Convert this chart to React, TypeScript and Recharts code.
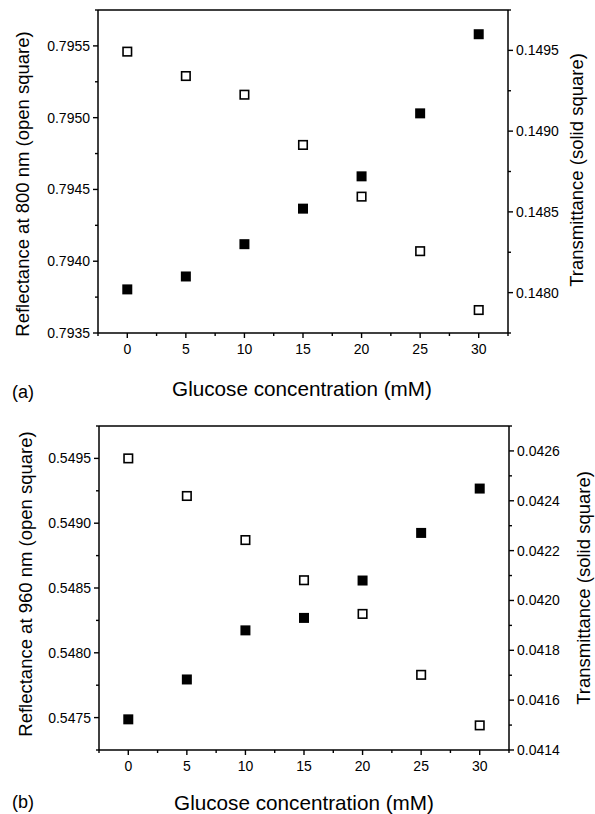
import React from 'react';
import { ScatterChart, Scatter, XAxis, YAxis, ReferenceLine } from 'recharts';

const FONT = '"Liberation Sans", Arial, Helvetica, sans-serif';

// ---- shared x axis ----
const concentrations = [0, 5, 10, 15, 20, 25, 30];
const xDomain = [-2.5, 32.5];
const xMajorTicks = [0, 5, 10, 15, 20, 25, 30];
const xMinorTicks = [-2.5, 2.5, 7.5, 12.5, 17.5, 22.5, 27.5, 32.5];

// ---- panel (a) ----
const reflectance800 = [0.79546, 0.79529, 0.79516, 0.79481, 0.79445, 0.79407, 0.79366];
const transmittanceA = [0.14802, 0.1481, 0.1483, 0.14852, 0.14872, 0.14911, 0.1496];
const leftDomainA = [0.7935, 0.79575];
const leftMajorA = [0.7935, 0.794, 0.7945, 0.795, 0.7955];
const leftMinorA = [0.79375, 0.79425, 0.79475, 0.79525, 0.79575];
const rightDomainA = [0.14775, 0.14975];
const rightMajorA = [0.148, 0.1485, 0.149, 0.1495];
const rightMinorA = [0.14775, 0.14825, 0.14875, 0.14925, 0.14975];

// ---- panel (b) ----
const reflectance960 = [0.5495, 0.54921, 0.54887, 0.54856, 0.5483, 0.54783, 0.54744];
const transmittanceB = [0.041523, 0.041683, 0.04188, 0.04193, 0.04208, 0.042271, 0.042449];
const leftDomainB = [0.54725, 0.54975];
const leftMajorB = [0.5475, 0.548, 0.5485, 0.549, 0.5495];
const leftMinorB = [0.54725, 0.54775, 0.54825, 0.54875, 0.54925, 0.54975];
const rightDomainB = [0.0414, 0.0427];
const rightMajorB = [0.0414, 0.0416, 0.0418, 0.042, 0.0422, 0.0424, 0.0426];
const rightMinorB = [0.0415, 0.0417, 0.0419, 0.0421, 0.0423, 0.0425, 0.0427];

const isMajor = (v: number, majors: number[]) => majors.some((m) => Math.abs(m - v) < 1e-9);

const makeXTick = (majors: number[]) => (props: any) => {
  const { x, y, payload } = props;
  const major = isMajor(payload.value, majors);
  return (
    <g>
      <line x1={x} x2={x} y1={y} y2={y + (major ? 5 : 3)} stroke="#000" strokeWidth={1.4} />
      {major && (
        <text x={x} y={y + 21} textAnchor="middle" fontSize={14} fontFamily={FONT} fill="#000">
          {payload.value}
        </text>
      )}
    </g>
  );
};

const makeYTick = (majors: number[], side: 'left' | 'right') => (props: any) => {
  const { x, y, payload } = props;
  const major = isMajor(payload.value, majors);
  const len = major ? 5 : 3;
  const dir = side === 'left' ? -1 : 1;
  return (
    <g>
      <line x1={x} x2={x + dir * len} y1={y} y2={y} stroke="#000" strokeWidth={1.4} />
      {major && (
        <text
          x={x + dir * 8}
          y={y + 5}
          textAnchor={side === 'left' ? 'end' : 'start'}
          fontSize={14}
          fontFamily={FONT}
          fill="#000"
        >
          {payload.value.toFixed(4)}
        </text>
      )}
    </g>
  );
};

const OpenSquare = (props: any) => {
  const { cx, cy } = props;
  return <rect x={cx - 4.25} y={cy - 4.25} width={8.5} height={8.5} fill="#fff" stroke="#000" strokeWidth={1.6} />;
};
const SolidSquare = (props: any) => {
  const { cx, cy } = props;
  return <rect x={cx - 5} y={cy - 5} width={10} height={10} fill="#000" />;
};

type PanelProps = {
  height: number;
  plot: { left: number; top: number; right: number; bottom: number };
  refl: number[];
  trans: number[];
  leftDomain: number[];
  leftMajor: number[];
  leftMinor: number[];
  rightDomain: number[];
  rightMajor: number[];
  rightMinor: number[];
  leftTitle: string;
  rightTitle: string;
  leftTitlePos: [number, number];
  rightTitlePos: [number, number];
  xTitlePos: [number, number];
  letter: string;
  letterPos: [number, number];
};

function Panel(p: PanelProps) {
  const W = 595;
  const axisW = 60;
  const axisH = 60;
  const margin = {
    top: p.plot.top,
    left: p.plot.left - axisW,
    right: W - p.plot.right - axisW,
    bottom: p.height - p.plot.bottom - axisH,
  };
  const reflData = concentrations.map((c, i) => ({ x: c, y: p.refl[i] }));
  const transData = concentrations.map((c, i) => ({ x: c, y: p.trans[i] }));
  const xTicks = [...xMajorTicks, ...xMinorTicks].sort((a, b) => a - b);
  const lTicks = [...p.leftMajor, ...p.leftMinor].sort((a, b) => a - b);
  const rTicks = [...p.rightMajor, ...p.rightMinor].sort((a, b) => a - b);

  return (
    <ScatterChart width={W} height={p.height} margin={margin}>
      <XAxis
        type="number"
        dataKey="x"
        domain={xDomain}
        ticks={xTicks}
        interval={0}
        allowDataOverflow
        height={axisH}
        tickSize={0}
        tickMargin={0}
        tickLine={false}
        axisLine={{ stroke: '#000', strokeWidth: 1.5 }}
        tick={makeXTick(xMajorTicks)}
        label={() => (
          <g>
            <text x={p.xTitlePos[0]} y={p.xTitlePos[1]} textAnchor="middle" fontSize={20.7} fontFamily={FONT} fill="#000">
              Glucose concentration (mM)
            </text>
            <text x={p.letterPos[0]} y={p.letterPos[1]} textAnchor="start" fontSize={18} fontFamily={FONT} fill="#000">
              {p.letter}
            </text>
          </g>
        )}
      />
      <YAxis
        yAxisId="left"
        orientation="left"
        type="number"
        dataKey="y"
        domain={p.leftDomain}
        ticks={lTicks}
        interval={0}
        allowDataOverflow
        width={axisW}
        tickSize={0}
        tickMargin={0}
        tickLine={false}
        axisLine={{ stroke: '#000', strokeWidth: 1.5 }}
        tick={makeYTick(p.leftMajor, 'left')}
        label={() => (
          <text
            transform={`translate(${p.leftTitlePos[0]},${p.leftTitlePos[1]}) rotate(-90)`}
            textAnchor="middle"
            dominantBaseline="central"
            fontSize={18.5}
            fontFamily={FONT}
            fill="#000"
          >
            {p.leftTitle}
          </text>
        )}
      />
      <YAxis
        yAxisId="right"
        orientation="right"
        type="number"
        dataKey="y"
        domain={p.rightDomain}
        ticks={rTicks}
        interval={0}
        allowDataOverflow
        width={axisW}
        tickSize={0}
        tickMargin={0}
        tickLine={false}
        axisLine={{ stroke: '#000', strokeWidth: 1.5 }}
        tick={makeYTick(p.rightMajor, 'right')}
        label={() => (
          <text
            transform={`translate(${p.rightTitlePos[0]},${p.rightTitlePos[1]}) rotate(-90)`}
            textAnchor="middle"
            dominantBaseline="central"
            fontSize={18.5}
            fontFamily={FONT}
            fill="#000"
          >
            {p.rightTitle}
          </text>
        )}
      />
      <ReferenceLine yAxisId="left" y={p.leftDomain[1]} stroke="#000" strokeWidth={1.5} />
      <Scatter yAxisId="left" data={reflData} shape={OpenSquare} isAnimationActive={false} />
      <Scatter yAxisId="right" data={transData} shape={SolidSquare} isAnimationActive={false} />
    </ScatterChart>
  );
}

export default function App() {
  return (
    <div style={{ position: 'absolute', left: 0, top: 0, width: 595, height: 814, background: '#fff' }}>
      <div style={{ position: 'absolute', left: 0, top: 0 }}>
        <Panel
          height={405}
          plot={{ left: 98, top: 10, right: 508, bottom: 333 }}
          refl={reflectance800}
          trans={transmittanceA}
          leftDomain={leftDomainA}
          leftMajor={leftMajorA}
          leftMinor={leftMinorA}
          rightDomain={rightDomainA}
          rightMajor={rightMajorA}
          rightMinor={rightMinorA}
          leftTitle="Reflectance at 800 nm (open square)"
          rightTitle="Transmittance (solid square)"
          leftTitlePos={[22, 184]}
          rightTitlePos={[576, 170]}
          xTitlePos={[302, 396]}
          letterPos={[12, 398]}
          letter="(a)"
        />
      </div>
      <div style={{ position: 'absolute', left: 0, top: 405 }}>
        <Panel
          height={409}
          plot={{ left: 99, top: 21, right: 509, bottom: 345 }}
          refl={reflectance960}
          trans={transmittanceB}
          leftDomain={leftDomainB}
          leftMajor={leftMajorB}
          leftMinor={leftMinorB}
          rightDomain={rightDomainB}
          rightMajor={rightMajorB}
          rightMinor={rightMinorB}
          leftTitle="Reflectance at 960 nm (open square)"
          rightTitle="Transmittance (solid square)"
          leftTitlePos={[25, 179]}
          rightTitlePos={[583, 183]}
          xTitlePos={[304, 405]}
          letterPos={[12, 403]}
          letter="(b)"
        />
      </div>
    </div>
  );
}
